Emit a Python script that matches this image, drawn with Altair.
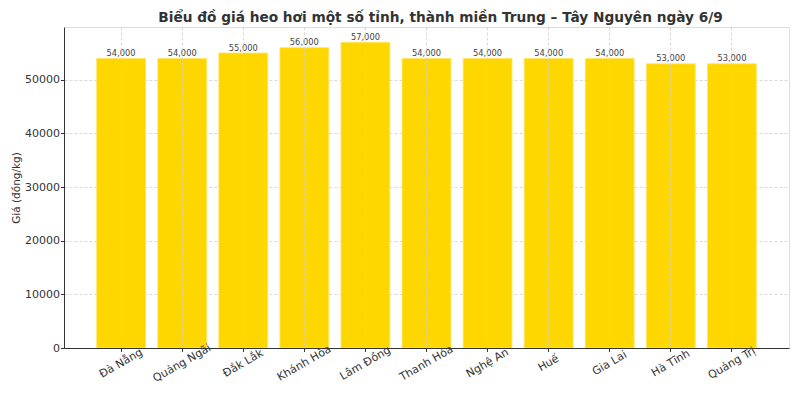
import altair as alt
import pandas as pd

provinces = ["Đà Nẵng", "Quảng Ngãi", "Đắk Lắk", "Khánh Hòa", "Lâm Đồng", "Thanh Hóa",
             "Nghệ An", "Huế", "Gia Lai", "Hà Tĩnh", "Quảng Trị"]
prices = [54000, 54000, 55000, 56000, 57000, 54000, 54000, 54000, 54000, 53000, 53000]

df = pd.DataFrame({"province": provinces, "price": prices})

FONT = "DejaVu Sans"
GRID = "#cfcfcf"

x_enc = alt.X("province:N", sort=provinces, title=None,
              scale=alt.Scale(paddingInner=0.2, paddingOuter=0.535),
              axis=alt.Axis(labelAngle=-30, labelAlign="center", labelBaseline="middle",
                            labelFontSize=11, labelColor="#333", labelFont=FONT,
                            bandPosition=0.5, grid=True, gridDash=[3, 2],
                            gridColor=GRID, gridWidth=0.8,
                            domainColor="#333", tickColor="#333", tickSize=3.5,
                            labelPadding=11.5, zindex=1))

y_enc = alt.Y("price:Q", title="Giá (đồng/kg)",
              scale=alt.Scale(domain=[0, 59850], nice=False),
              axis=alt.Axis(values=[0, 10000, 20000, 30000, 40000, 50000], format="d",
                            labelFontSize=11, labelColor="#333", labelFont=FONT,
                            labelPadding=1,
                            titleFont=FONT, titleFontSize=10.5, titleFontWeight="normal",
                            titleColor="#333", titlePadding=3,
                            grid=True, gridDash=[3, 2], gridColor=GRID, gridWidth=0.8,
                            domainColor="#333", tickColor="#333", tickSize=3.5, zindex=0))

bars = alt.Chart(df).mark_bar(color="#FFD700", stroke="#FFE566", strokeWidth=0.8).encode(
    x=x_enc, y=y_enc)

labels = alt.Chart(df).mark_text(dy=-2.5, baseline="alphabetic", fontSize=8.3,
                                 color="#444", font=FONT).encode(
    x=alt.X("province:N", sort=provinces),
    y="price:Q",
    text=alt.Text("price:Q", format=",.0f"),
)

chart = (bars + labels).properties(
    width=725, height=321,
    title=alt.Title("Biểu đồ giá heo hơi một số tỉnh, thành miền Trung – Tây Nguyên ngày 6/9",
                    font=FONT, fontSize=13.7, fontWeight="bold", color="#333",
                    anchor="middle", offset=2, dx=14),
    autosize=alt.AutoSizeParams(type="none"),
    padding={"left": 56, "top": 19, "right": 3, "bottom": 45},
).configure_view(stroke=None).configure(background="white")

chart.save("out.html", embed_options={"renderer": "svg", "actions": False})
